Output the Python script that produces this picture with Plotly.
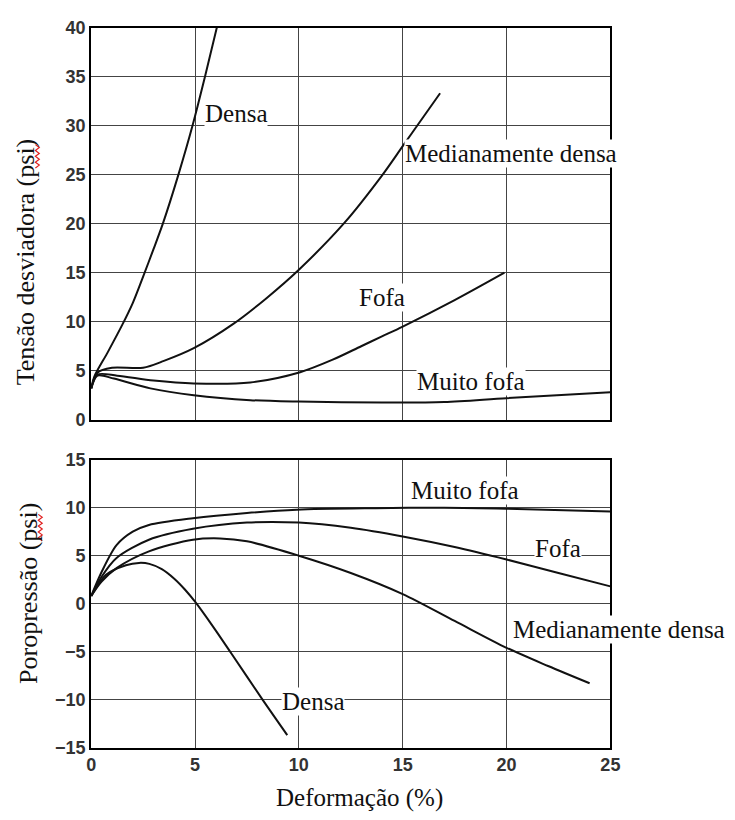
import plotly.graph_objects as go

# Axial strain (%) and deviator stress (psi) for each sand density
strain_densa_q = [0.0, 0.15, 0.8, 1.5, 2.0, 2.5, 3.0, 3.45, 4.2, 4.88, 5.48, 6.05]
q_densa = [3.2, 4.4, 6.9, 9.7, 11.9, 14.6, 17.4, 20.0, 25.0, 30.0, 35.0, 40.0]

strain_media_q = [0.0, 0.3, 1.0, 2.5, 3.5, 4.94, 6.86, 8.44, 10.0, 12.2, 14.0, 15.0, 16.0, 16.8]
q_media = [3.2, 4.8, 5.3, 5.3, 6.0, 7.3, 9.8, 12.4, 15.3, 20.1, 24.9, 27.9, 30.9, 33.3]

strain_fofa_q = [0.0, 0.3, 1.25, 3.0, 4.94, 7.66, 10.06, 11.6, 13.0, 14.0, 15.0, 17.5, 19.9]
q_fofa = [3.2, 4.6, 4.5, 4.0, 3.7, 3.8, 4.85, 6.1, 7.5, 8.5, 9.5, 12.2, 15.0]

strain_mfofa_q = [0.0, 0.3, 1.09, 2.85, 4.94, 7.66, 10.0, 14.0, 17.0, 20.0, 25.0]
q_mfofa = [3.2, 4.5, 4.2, 3.2, 2.5, 2.0, 1.85, 1.75, 1.8, 2.2, 2.8]

# Axial strain (%) and pore pressure (psi)
strain_mfofa_u = [0.0, 0.5, 1.22, 2.0, 2.78, 4.9, 7.5, 9.9, 13.7, 17.0, 20.0, 25.0]
u_mfofa = [0.8, 3.3, 6.1, 7.5, 8.2, 8.9, 9.45, 9.8, 9.95, 10.0, 9.9, 9.6]

strain_fofa_u = [0.0, 0.5, 1.22, 2.78, 4.9, 7.5, 10.0, 12.5, 15.0, 17.5, 20.0, 22.5, 25.0]
u_fofa = [0.8, 2.8, 4.76, 6.66, 7.8, 8.45, 8.45, 7.9, 7.0, 5.9, 4.6, 3.2, 1.8]

strain_media_u = [0.0, 0.5, 1.22, 2.78, 4.9, 6.2, 7.5, 10.0, 12.5, 15.0, 17.5, 20.0, 22.0, 24.0]
u_media = [0.8, 2.3, 3.7, 5.45, 6.66, 6.8, 6.5, 5.0, 3.2, 1.0, -1.8, -4.6, -6.5, -8.3]

strain_densa_u = [0.0, 0.71, 1.67, 2.3, 2.8, 3.4, 4.0, 4.5, 5.0, 5.9, 6.75, 8.25, 9.44]
u_densa = [0.8, 3.0, 4.0, 4.25, 4.15, 3.6, 2.6, 1.5, 0.2, -2.5, -5.2, -10.0, -13.7]

x_ticks = [0, 5, 10, 15, 20, 25]
q_ticks = [0, 5, 10, 15, 20, 25, 30, 35, 40]
u_ticks = [-15, -10, -5, 0, 5, 10, 15]

SERIF = "Liberation Serif"
SANS = "Liberation Sans"
INK = "#111111"

fig = go.Figure()

line = dict(color=INK, width=2, shape="spline", smoothing=0.85)
for xs, ys in [(strain_densa_q, q_densa), (strain_media_q, q_media),
               (strain_fofa_q, q_fofa), (strain_mfofa_q, q_mfofa)]:
    fig.add_trace(go.Scatter(x=xs, y=ys, mode="lines", line=line,
                             xaxis="x", yaxis="y", showlegend=False, hoverinfo="skip"))
for xs, ys in [(strain_mfofa_u, u_mfofa), (strain_fofa_u, u_fofa),
               (strain_media_u, u_media), (strain_densa_u, u_densa)]:
    fig.add_trace(go.Scatter(x=xs, y=ys, mode="lines", line=line,
                             xaxis="x2", yaxis="y2", showlegend=False, hoverinfo="skip"))

W, H = 735, 820
x_dom = [88 / W, 618 / W]
top_dom = [1 - 420 / H, 1 - 18 / H]
bot_dom = [1 - 756 / H, 1 - 461 / H]

axis_common = dict(showline=True, mirror=True, linecolor="#000", linewidth=2,
                   showgrid=True, gridcolor="#444", gridwidth=1, zeroline=False,
                   ticks="", tickfont=dict(family=SANS, size=18, color="#333",
                                           weight="bold"))

fig.update_layout(
    width=W, height=H, margin=dict(l=0, r=0, t=0, b=0),
    paper_bgcolor="white", plot_bgcolor="white",
    xaxis=dict(axis_common, domain=x_dom, range=[0, 25], tickvals=x_ticks,
               showticklabels=False, anchor="y"),
    yaxis=dict(axis_common, domain=top_dom, range=[0, 40], tickvals=q_ticks,
               anchor="x"),
    xaxis2=dict(axis_common, domain=x_dom, range=[0, 25], tickvals=x_ticks,
                anchor="y2"),
    yaxis2=dict(axis_common, domain=bot_dom, range=[-15, 15], tickvals=u_ticks,
                anchor="x2"),
)

label_font = dict(family=SERIF, size=25, color=INK)
centered = dict(showarrow=False, xanchor="center", yanchor="middle",
                bgcolor="white", borderpad=0)

curve_labels_top = [("Densa", 6.96, 31.2), ("Medianamente densa", 20.2, 27.2),
                    ("Fofa", 14.0, 12.5), ("Muito fofa", 18.3, 3.9)]
for text, xv, yv in curve_labels_top:
    fig.add_annotation(centered, text=text, x=xv, y=yv, xref="x", yref="y",
                       font=label_font)

curve_labels_bot = [("Muito fofa", 18.0, 11.8), ("Fofa", 22.5, 5.8),
                    ("Densa", 10.7, -10.2)]
for text, xv, yv in curve_labels_bot:
    fig.add_annotation(centered, text=text, x=xv, y=yv, xref="x2", yref="y2",
                       font=label_font)
# this label runs past the right edge of the axes
fig.add_annotation(centered, text="Medianamente densa", x=518 / W, xanchor="left",
                   y=-2.7, xref="paper", yref="y2", font=label_font)

title_font = dict(family=SERIF, size=26, color=INK)
plain = dict(showarrow=False, xanchor="center", yanchor="middle",
             xref="paper", yref="paper")
fig.add_annotation(plain, text="Tensão desviadora (psi)", x=21 / W, y=1 - 258 / H,
                   textangle=-90, font=title_font)
fig.add_annotation(plain, text="Poropressão (psi)", x=24 / W, y=1 - 598 / H,
                   textangle=-90, font=title_font)
fig.add_annotation(plain, text="Deformação (%)", x=362 / W, y=1 - 808 / H,
                   font=dict(family=SERIF, size=25, color=INK))


# red spell-check squiggle beside "psi" in each vertical title
def squiggle(x_px, y0_px, y1_px, amp=2.0, step=3.0):
    pts = []
    y = y0_px
    k = 0
    while y <= y1_px:
        xv = x_px + (amp if k % 2 else -amp)
        pts.append((xv / W, 1 - y / H))
        y += step
        k += 1
    return "M " + " L ".join(f"{a:.5f},{b:.5f}" for a, b in pts)


for x_px, y0, y1 in [(33, 138, 164), (36, 517, 544)]:
    fig.add_shape(type="path", path=squiggle(x_px, y0, y1), xref="paper",
                  yref="paper", line=dict(color="#e02020", width=1.2))

fig.write_html("out.html")
